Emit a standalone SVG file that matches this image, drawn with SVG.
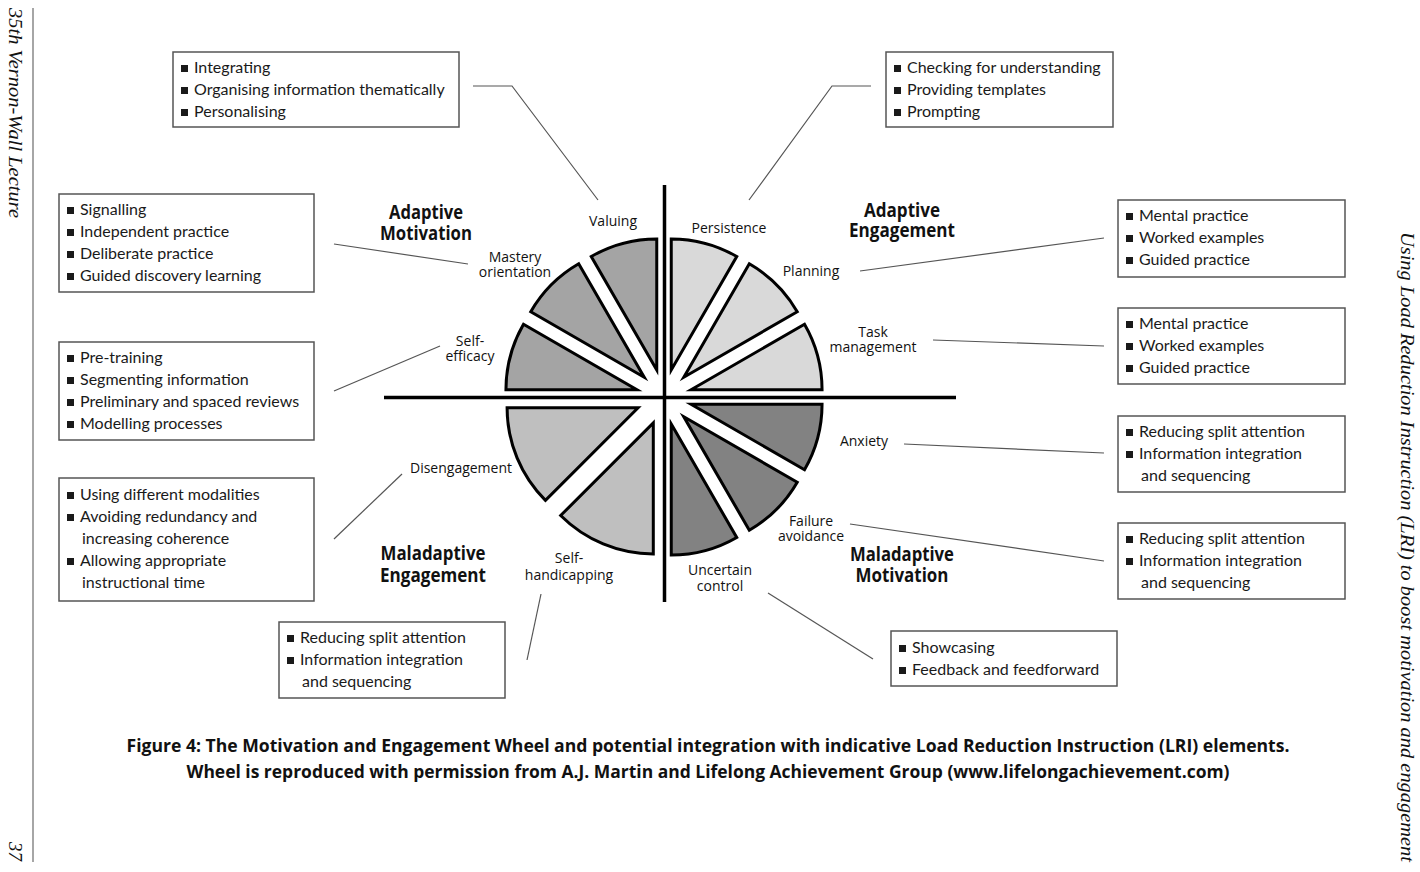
<svg xmlns="http://www.w3.org/2000/svg" width="1420" height="872" viewBox="0 0 1420 872">
<style>
.bt{font-family:Lato,"Open Sans",sans-serif;font-size:16px;fill:#1a1a1a}
.box{fill:#fff;stroke:#555;stroke-width:1.5}
.lbl{font-family:"Open Sans",Lato,sans-serif;font-size:14px;fill:#111;text-anchor:middle}
.ttl{font-family:"Open Sans",Lato,sans-serif;font-size:19px;font-weight:bold;fill:#111;text-anchor:middle}
.cap{font-family:"Open Sans",Lato,sans-serif;font-size:18px;font-weight:bold;fill:#111;text-anchor:middle}
.mar{font-family:"Liberation Serif",serif;font-style:italic;font-size:19px;fill:#111}
.w{stroke:#000;stroke-width:3;stroke-linejoin:miter}
.q1{fill:#a4a4a4}.q2{fill:#d9d9d9}.q3{fill:#bfbfbf}.q4{fill:#828282}
.con line,.con polyline{stroke:#555;stroke-width:1.2;fill:none}
</style>
<defs>
<rect id="b" width="7" height="7" fill="#1a1a1a"/>
</defs>
<rect width="1420" height="872" fill="#fff"/>

<!-- margins -->
<line x1="33" y1="8" x2="33" y2="862" stroke="#888" stroke-width="1.5"/>
<text class="mar" transform="translate(9,8) rotate(90)" textLength="210" lengthAdjust="spacingAndGlyphs">35th Vernon-Wall Lecture</text>
<text class="mar" transform="translate(9,842) rotate(90)">37</text>
<text class="mar" transform="translate(1401,232) rotate(90)" textLength="630" lengthAdjust="spacingAndGlyphs">Using Load Reduction Instruction (LRI) to boost motivation and engagement</text>

<!-- connectors -->
<g id="connectors" class="con">
<polyline points="473,86 512,86 598,200"/>
<polyline points="871,86 832,86 749,200"/>
<line x1="334" y1="244" x2="468" y2="264"/>
<line x1="334" y1="391" x2="440" y2="346"/>
<line x1="334" y1="539" x2="402" y2="474"/>
<line x1="527" y1="660" x2="541" y2="594"/>
<line x1="768" y1="593" x2="873" y2="659"/>
<line x1="860" y1="271" x2="1104" y2="238"/>
<line x1="933" y1="340" x2="1104" y2="346"/>
<line x1="904" y1="444" x2="1104" y2="453"/>
<line x1="850" y1="524" x2="1104" y2="561"/>
</g>

<!-- wheel -->
<g id="wheel">
<g id="axes">
<line x1="384" y1="397.5" x2="956" y2="397.5" stroke="#000" stroke-width="3.5"/>
<line x1="664.5" y1="185" x2="664.5" y2="602" stroke="#000" stroke-width="3.5"/>
</g>
<g id="valuing"><path class="w q1" d="M656.75,369.95 L591.25,256.5 A131,131 0 0 1 656.75,238.95 Z"/></g>
<g id="mastery"><path class="w q1" d="M644.2,377.2 L530.75,311.7 A131,131 0 0 1 578.7,263.75 Z"/></g>
<g id="selfefficacy"><path class="w q1" d="M636.95,389.75 L505.95,389.75 A131,131 0 0 1 523.5,324.25 Z"/></g>
<g id="persistence"><path class="w q2" d="M671.25,369.95 L671.25,238.95 A131,131 0 0 1 736.75,256.5 Z"/></g>
<g id="planning"><path class="w q2" d="M683.8,377.2 L749.3,263.75 A131,131 0 0 1 797.25,311.7 Z"/></g>
<g id="taskmanagement"><path class="w q2" d="M691.05,389.75 L804.5,324.25 A131,131 0 0 1 822.05,389.75 Z"/></g>
<g id="anxiety"><path class="w q4" d="M691.05,404.25 L822.05,404.25 A131,131 0 0 1 804.5,469.75 Z"/></g>
<g id="failureavoidance"><path class="w q4" d="M683.8,416.8 L797.25,482.3 A131,131 0 0 1 749.3,530.25 Z"/></g>
<g id="uncertaincontrol"><path class="w q4" d="M671.25,424.05 L736.75,537.5 A131,131 0 0 1 671.25,555.05 Z"/></g>
<g id="selfhandicapping"><path class="w q3" d="M653.3,422.9 L653.3,553.9 A131,131 0 0 1 560.67,515.53 Z"/></g>
<g id="disengagement"><path class="w q3" d="M638.1,407.7 L545.47,500.33 A131,131 0 0 1 507.1,407.7 Z"/></g>
</g>

<!-- wheel labels -->
<g id="labels">
<text class="lbl" x="613" y="226">Valuing</text>
<text class="lbl" x="729" y="233">Persistence</text>
<text class="lbl" x="811" y="276">Planning</text>
<text class="lbl" x="873" y="337">Task</text>
<text class="lbl" x="873" y="352">management</text>
<text class="lbl" x="515" y="262">Mastery</text>
<text class="lbl" x="515" y="277">orientation</text>
<text class="lbl" x="470" y="346">Self-</text>
<text class="lbl" x="470" y="361">efficacy</text>
<text class="lbl" x="461" y="473">Disengagement</text>
<text class="lbl" x="569" y="563">Self-</text>
<text class="lbl" x="569" y="580">handicapping</text>
<text class="lbl" x="720" y="575">Uncertain</text>
<text class="lbl" x="720" y="591">control</text>
<text class="lbl" x="811" y="526">Failure</text>
<text class="lbl" x="811" y="541">avoidance</text>
<text class="lbl" x="864" y="446">Anxiety</text>
</g>

<g id="titles">
<text class="ttl" x="426" y="219" textLength="74" lengthAdjust="spacingAndGlyphs">Adaptive</text>
<text class="ttl" x="426" y="240" textLength="92" lengthAdjust="spacingAndGlyphs">Motivation</text>
<text class="ttl" x="902" y="217" textLength="76" lengthAdjust="spacingAndGlyphs">Adaptive</text>
<text class="ttl" x="902" y="237" textLength="106" lengthAdjust="spacingAndGlyphs">Engagement</text>
<text class="ttl" x="433" y="560" textLength="105" lengthAdjust="spacingAndGlyphs">Maladaptive</text>
<text class="ttl" x="433" y="582" textLength="106" lengthAdjust="spacingAndGlyphs">Engagement</text>
<text class="ttl" x="902" y="561" textLength="104" lengthAdjust="spacingAndGlyphs">Maladaptive</text>
<text class="ttl" x="902" y="582" textLength="93" lengthAdjust="spacingAndGlyphs">Motivation</text>
</g>

<!-- boxes -->
<g id="box-integrating">
<rect class="box" x="173" y="52" width="286" height="75"/>
<use href="#b" x="181" y="65"/><text class="bt" x="194" y="73">Integrating</text>
<use href="#b" x="181" y="87"/><text class="bt" x="194" y="95">Organising information thematically</text>
<use href="#b" x="181" y="109"/><text class="bt" x="194" y="117">Personalising</text>
</g>
<g id="box-checking">
<rect class="box" x="886" y="52" width="227" height="75"/>
<use href="#b" x="894" y="65"/><text class="bt" x="907" y="73">Checking for understanding</text>
<use href="#b" x="894" y="87"/><text class="bt" x="907" y="95">Providing templates</text>
<use href="#b" x="894" y="109"/><text class="bt" x="907" y="117">Prompting</text>
</g>
<g id="box-signalling">
<rect class="box" x="59" y="194" width="255" height="98"/>
<use href="#b" x="67" y="207"/><text class="bt" x="80" y="215">Signalling</text>
<use href="#b" x="67" y="229"/><text class="bt" x="80" y="237">Independent practice</text>
<use href="#b" x="67" y="251"/><text class="bt" x="80" y="259">Deliberate practice</text>
<use href="#b" x="67" y="273"/><text class="bt" x="80" y="281">Guided discovery learning</text>
</g>
<g id="box-pretraining">
<rect class="box" x="59" y="342" width="255" height="98"/>
<use href="#b" x="67" y="355"/><text class="bt" x="80" y="363">Pre-training</text>
<use href="#b" x="67" y="377"/><text class="bt" x="80" y="385">Segmenting information</text>
<use href="#b" x="67" y="399"/><text class="bt" x="80" y="407">Preliminary and spaced reviews</text>
<use href="#b" x="67" y="421"/><text class="bt" x="80" y="429">Modelling processes</text>
</g>
<g id="box-modalities">
<rect class="box" x="59" y="478" width="255" height="123"/>
<use href="#b" x="67" y="492"/><text class="bt" x="80" y="500">Using different modalities</text>
<use href="#b" x="67" y="514"/><text class="bt" x="80" y="522">Avoiding redundancy and</text>
<text class="bt" x="82" y="544">increasing coherence</text>
<use href="#b" x="67" y="558"/><text class="bt" x="80" y="566">Allowing appropriate</text>
<text class="bt" x="82" y="588">instructional time</text>
</g>
<g id="box-split-bottom">
<rect class="box" x="279" y="622" width="226" height="76"/>
<use href="#b" x="287" y="635"/><text class="bt" x="300" y="643">Reducing split attention</text>
<use href="#b" x="287" y="657"/><text class="bt" x="300" y="665">Information integration</text>
<text class="bt" x="302" y="687">and sequencing</text>
</g>
<g id="box-showcasing">
<rect class="box" x="891" y="631" width="226" height="55"/>
<use href="#b" x="899" y="645"/><text class="bt" x="912" y="653">Showcasing</text>
<use href="#b" x="899" y="667"/><text class="bt" x="912" y="675">Feedback and feedforward</text>
</g>
<g id="box-mental-1">
<rect class="box" x="1118" y="200" width="227" height="77"/>
<use href="#b" x="1126" y="213"/><text class="bt" x="1139" y="221">Mental practice</text>
<use href="#b" x="1126" y="235"/><text class="bt" x="1139" y="243">Worked examples</text>
<use href="#b" x="1126" y="257"/><text class="bt" x="1139" y="265">Guided practice</text>
</g>
<g id="box-mental-2">
<rect class="box" x="1118" y="308" width="227" height="76"/>
<use href="#b" x="1126" y="321"/><text class="bt" x="1139" y="329">Mental practice</text>
<use href="#b" x="1126" y="343"/><text class="bt" x="1139" y="351">Worked examples</text>
<use href="#b" x="1126" y="365"/><text class="bt" x="1139" y="373">Guided practice</text>
</g>
<g id="box-split-1">
<rect class="box" x="1118" y="416" width="227" height="76"/>
<use href="#b" x="1126" y="429"/><text class="bt" x="1139" y="437">Reducing split attention</text>
<use href="#b" x="1126" y="451"/><text class="bt" x="1139" y="459">Information integration</text>
<text class="bt" x="1141" y="481">and sequencing</text>
</g>
<g id="box-split-2">
<rect class="box" x="1118" y="523" width="227" height="76"/>
<use href="#b" x="1126" y="536"/><text class="bt" x="1139" y="544">Reducing split attention</text>
<use href="#b" x="1126" y="558"/><text class="bt" x="1139" y="566">Information integration</text>
<text class="bt" x="1141" y="588">and sequencing</text>
</g>

<g id="caption">
<text class="cap" x="708" y="752" textLength="1163" lengthAdjust="spacingAndGlyphs">Figure 4: The Motivation and Engagement Wheel and potential integration with indicative Load Reduction Instruction (LRI) elements.</text>
<text class="cap" x="708" y="778" textLength="1043" lengthAdjust="spacingAndGlyphs">Wheel is reproduced with permission from A.J. Martin and Lifelong Achievement Group (www.lifelongachievement.com)</text>
</g>
</svg>
